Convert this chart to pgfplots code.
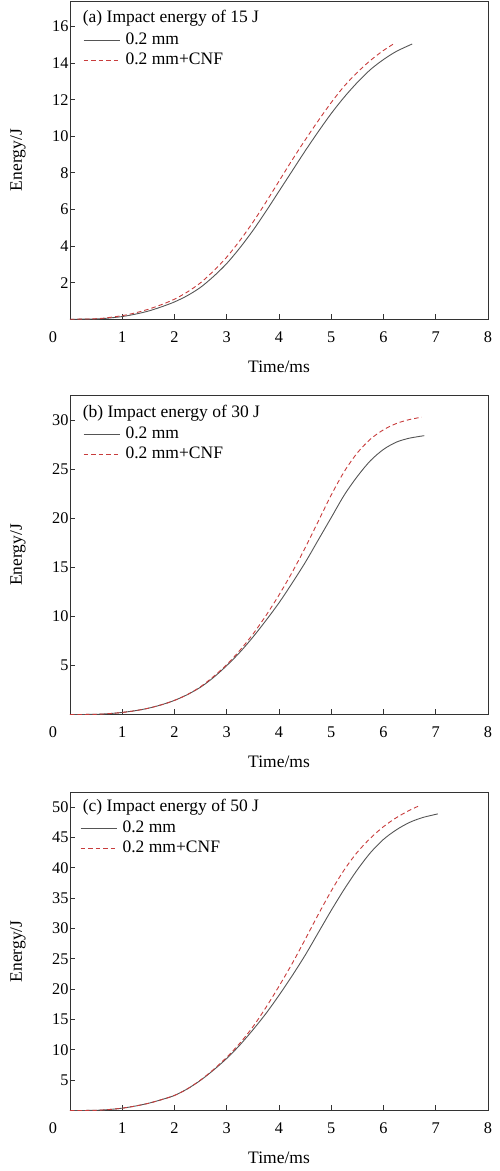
\documentclass[border=0pt]{standalone}
\usepackage{pgfplots}
\pgfplotsset{compat=1.18}
\usepackage{fontspec}
\setmainfont{Liberation Serif}
\definecolor{solidgray}{HTML}{555555}
\definecolor{dashred}{HTML}{C83C3C}
\newcommand{\fs}{\fontsize{17.5}{20}\selectfont}
\newcommand{\ft}{\fontsize{16.3}{19}\selectfont}
\pgfplotsset{
  panel/.style={
    scale only axis, width=418pt,
    xmin=0, xmax=8, ymin=0,
    xtick={1,...,8},
    tick align=inside, tick pos=left,
    major tick length=5.5pt,
    axis line style={line width=0.9pt, black!80},
    every tick/.style={line width=0.9pt, black!80},
    /pgf/number format/assume math mode=true,
    tick label style={font=\ft},
    xticklabel style={yshift=-9pt},
    yticklabel style={xshift=2pt},
    extra x ticks={0}, extra x tick labels={0},
    extra x tick style={major tick length=0pt, xticklabel style={xshift=-17pt}},
    label style={font=\fs},
    xlabel={Time/ms}, ylabel={Energy/J},
    xlabel style={at={(axis description cs:0.5,-0.149)}, anchor=center},
    ylabel style={at={(axis description cs:-0.1244,0.5)}, anchor=center},
    legend image code/.code={\draw[##1] (0pt,0pt) -- (36pt,0pt);},
    legend style={draw=none, fill=none, inner sep=0pt,
      at={(axis description cs:0,1)}, anchor=north west,
      xshift=13pt, yshift=-29.7pt, font=\fs,
      cells={anchor=west}, column sep=2.5pt,
      nodes={inner sep=3pt, text height=11pt, text depth=3pt}},
  },
  s1/.style={solidgray, line width=0.9pt, smooth},
  s2/.style={dashred, line width=0.9pt, dash pattern=on 4.5pt off 3pt, smooth},
}
\begin{document}
\begin{tikzpicture}
\useasboundingbox (-70pt,-60.4pt) rectangle (430pt,1110.6pt);
% (a)
\begin{axis}[panel, at={(0pt,791.3pt)}, anchor=south west, height=318.3pt,
  ymax=17.4, ytick={2,4,...,16}]
\addplot[s1] coordinates {(0,0) (0.5,0.02) (0.75,0.07) (1,0.15) (1.25,0.28) (1.5,0.45) (1.75,0.68) (2,0.95) (2.25,1.3) (2.5,1.75) (2.75,2.35) (3,3.05) (3.25,3.9) (3.5,4.85) (3.75,5.9) (4,7.0) (4.25,8.1) (4.5,9.2) (4.75,10.25) (5,11.25) (5.25,12.15) (5.5,12.95) (5.75,13.65) (6,14.2) (6.25,14.65) (6.55,15.05)};
\addlegendentry{0.2 mm}
\addplot[s2] coordinates {(0,0) (0.5,0.03) (0.75,0.1) (1,0.2) (1.25,0.35) (1.5,0.55) (1.75,0.8) (2,1.1) (2.25,1.5) (2.5,2.0) (2.75,2.65) (3,3.4) (3.25,4.3) (3.5,5.3) (3.75,6.4) (4,7.55) (4.25,8.7) (4.5,9.8) (4.75,10.85) (5,11.85) (5.25,12.75) (5.5,13.5) (5.75,14.15) (6,14.7) (6.22,15.1)};
\addlegendentry{0.2 mm+CNF}
\node[anchor=base west, inner sep=0pt, font=\fs] at ([xshift=12.7pt,yshift=-21.7pt]axis description cs:0,1) {(a) Impact energy of 15 J};
\end{axis}
% (b)
\begin{axis}[panel, at={(0pt,396pt)}, anchor=south west, height=319.6pt,
  ymax=32.6, ytick={5,10,...,30}]
\addplot[s1] coordinates {(0,0) (0.5,0.03) (0.75,0.1) (1,0.22) (1.25,0.4) (1.5,0.65) (1.75,1.0) (2,1.45) (2.25,2.05) (2.5,2.8) (2.75,3.8) (3,5.0) (3.25,6.35) (3.5,7.9) (3.75,9.6) (4,11.4) (4.25,13.4) (4.5,15.5) (4.75,17.8) (5,20.1) (5.25,22.4) (5.5,24.3) (5.75,25.9) (6,27.05) (6.25,27.8) (6.5,28.2) (6.78,28.45)};
\addlegendentry{0.2 mm}
\addplot[s2] coordinates {(0,0) (0.5,0.03) (0.75,0.1) (1,0.22) (1.25,0.4) (1.5,0.65) (1.75,1.0) (2,1.45) (2.25,2.05) (2.5,2.85) (2.75,3.9) (3,5.1) (3.25,6.55) (3.5,8.2) (3.75,10.1) (4,12.2) (4.25,14.5) (4.5,17.0) (4.75,19.7) (5,22.4) (5.25,24.8) (5.5,26.7) (5.75,28.1) (6,29.05) (6.25,29.7) (6.5,30.1) (6.73,30.33)};
\addlegendentry{0.2 mm+CNF}
\node[anchor=base west, inner sep=0pt, font=\fs] at ([xshift=12.7pt,yshift=-23pt]axis description cs:0,1) {(b) Impact energy of 30 J};
\end{axis}
% (c)
\begin{axis}[panel, at={(0pt,0pt)}, anchor=south west, height=318.3pt,
  ymax=52.46, ytick={5,10,...,50},
  legend style={xshift=-3pt, yshift=4pt}]
\addplot[s1] coordinates {(0,0) (0.5,0.05) (0.75,0.18) (1,0.4) (1.25,0.75) (1.5,1.2) (1.75,1.8) (2,2.5) (2.25,3.6) (2.5,5.0) (2.75,6.7) (3,8.6) (3.25,10.8) (3.5,13.3) (3.75,16.0) (4,19.0) (4.25,22.2) (4.5,25.6) (4.75,29.3) (5,33.0) (5.25,36.5) (5.5,39.7) (5.75,42.5) (6,44.7) (6.25,46.3) (6.5,47.5) (6.75,48.3) (7.04,48.9)};
\addlegendentry{0.2 mm}
\addplot[s2] coordinates {(0,0) (0.5,0.05) (0.75,0.18) (1,0.4) (1.25,0.75) (1.5,1.2) (1.75,1.8) (2,2.5) (2.25,3.6) (2.5,5.05) (2.75,6.8) (3,8.8) (3.25,11.1) (3.5,13.8) (3.75,17.0) (4,20.5) (4.25,24.2) (4.5,28.2) (4.75,32.3) (5,36.2) (5.25,39.7) (5.5,42.6) (5.75,44.9) (6,46.8) (6.25,48.3) (6.5,49.5) (6.7,50.3)};
\addlegendentry{0.2 mm+CNF}
\node[anchor=base west, inner sep=0pt, font=\fs] at ([xshift=12.7pt,yshift=-19.4pt]axis description cs:0,1) {(c) Impact energy of 50 J};
\end{axis}
\end{tikzpicture}
\end{document}
